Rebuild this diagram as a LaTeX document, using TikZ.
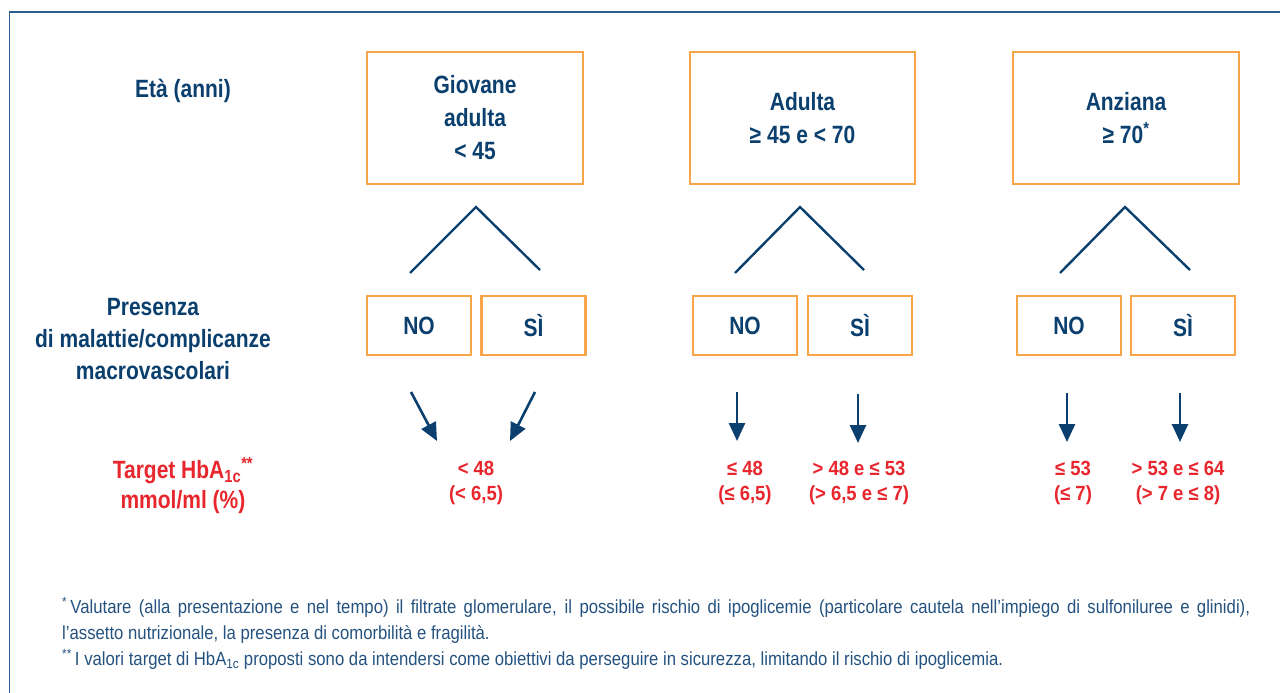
\documentclass[tikz,border=0pt]{standalone}
\usepackage{fontspec}
\setmainfont{Liberation Sans}
\newfontfamily\labfont{Liberation Sans}[FakeStretch=0.84]
\newfontfamily\valfont{Liberation Sans}[FakeStretch=0.9]
\newfontfamily\notefont{Liberation Sans}[FakeStretch=0.88]
\usetikzlibrary{arrows.meta}
\definecolor{navy}{HTML}{0B3F6E}
\definecolor{frameblue}{HTML}{2B5E91}
\definecolor{boxorange}{HTML}{F7A548}
\definecolor{tred}{HTML}{E8262D}
\definecolor{noteblue}{HTML}{24527F}
\tikzset{
  agebox/.style={draw=boxorange,line width=2.5pt,minimum width=#1,minimum height=132pt,inner sep=0pt,align=center,text=navy,font=\labfont\bfseries\fontsize{25}{33}\selectfont},
  ynbox/.style={draw=boxorange,line width=2.5pt,minimum width=104pt,minimum height=59pt,inner sep=0pt,text=navy,font=\labfont\bfseries\fontsize{25}{28}\selectfont},
  rowlabel/.style={align=center,text=navy,font=\labfont\bfseries\fontsize{25}{32}\selectfont,inner sep=0pt},
  redlabel/.style={align=center,text=tred,font=\labfont\bfseries\fontsize{25}{30}\selectfont,inner sep=0pt},
  value/.style={align=center,text=tred,font=\valfont\bfseries\fontsize{20.5}{24.5}\selectfont,inner sep=0pt},
  chev/.style={draw=navy,line width=2.4pt},
  arr/.style={draw=navy,line width=2.6pt,-{Triangle[length=18pt,width=16pt]}},
  note/.style={anchor=base west,text=noteblue,font=\notefont\fontsize{19}{22}\selectfont,inner sep=0pt},
  frame/.style={draw=frameblue,line width=1.8pt}
}
\begin{document}
\begin{tikzpicture}[x=1pt,y=-1pt]
\useasboundingbox (0,0) rectangle (1280,693);
% frame
\coordinate (fb) at (9.5,700);
\coordinate (fc) at (9.5,12);
\coordinate (fr) at (1290,12);
\draw[frame] (fb) -- (fc) -- (fr);

% row labels
\node[rowlabel] (eta) at (183,91) {Età (anni)};
\node[rowlabel] (pres) at (153,339) {Presenza\\di malattie/complicanze\\macrovascolari};
\node[redlabel] (targ) at (183,486) {Target HbA\textsubscript{1c}\textsuperscript{**}\\mmol/ml (\%)};

% age boxes
\node[agebox=216pt] (a1) at (475,118) {Giovane\\adulta\\< 45};
\node[agebox=225pt] (a2) at (802.5,118) {Adulta\\≥ 45 e < 70};
\node[agebox=226pt] (a3) at (1126,118) {Anziana\\≥ 70\textsuperscript{*}};

% chevrons
\coordinate (t1) at (476,207); \coordinate (l1) at (410,273); \coordinate (r1) at (540,270);
\coordinate (t2) at (800,207); \coordinate (l2) at (735,273); \coordinate (r2) at (864,270);
\coordinate (t3) at (1125,207); \coordinate (l3) at (1060,273); \coordinate (r3) at (1190,270);
\draw[chev] (l1) -- (t1) -- (r1);
\draw[chev] (l2) -- (t2) -- (r2);
\draw[chev] (l3) -- (t3) -- (r3);

% yes/no boxes
\node[ynbox] (n1) at (419,325.5) {NO};
\node[ynbox] (s1) at (533.5,325.5) {SÌ};
\node[ynbox] (n2) at (745,325.5) {NO};
\node[ynbox] (s2) at (860,325.5) {SÌ};
\node[ynbox] (n3) at (1069,325.5) {NO};
\node[ynbox] (s3) at (1183,325.5) {SÌ};

% arrows
\coordinate (an1a) at (411,392); \coordinate (an1b) at (437,441);
\coordinate (as1a) at (535,392); \coordinate (as1b) at (510,441);
\coordinate (an2a) at (737,392); \coordinate (an2b) at (737,441);
\coordinate (as2a) at (858,394); \coordinate (as2b) at (858,443);
\coordinate (an3a) at (1067,393); \coordinate (an3b) at (1067,442);
\coordinate (as3a) at (1180,393); \coordinate (as3b) at (1180,442);
\draw[arr] (an1a) -- (an1b);
\draw[arr] (as1a) -- (as1b);
\draw[arr] (an2a) -- (an2b);
\draw[arr] (as2a) -- (as2b);
\draw[arr] (an3a) -- (an3b);
\draw[arr] (as3a) -- (as3b);

% values
\node[value] (v1) at (476,483) {< 48\\(< 6,5)};
\node[value] (v2) at (745,483) {≤ 48\\(≤ 6,5)};
\node[value] (v3) at (859,483) {> 48 e ≤ 53\\(> 6,5 e ≤ 7)};
\node[value] (v4) at (1073,483) {≤ 53\\(≤ 7)};
\node[value] (v5) at (1178,483) {> 53 e ≤ 64\\(> 7 e ≤ 8)};

% footnotes
\node[note] (f1) at (62,613) {\makebox[1188pt][s]{\textsuperscript{*}\,Valutare (alla presentazione e nel tempo) il filtrate glomerulare, il possibile rischio di ipoglicemie (particolare cautela nell’impiego di sulfoniluree e glinidi),}};
\node[note] (f2) at (62,639) {l’assetto nutrizionale, la presenza di comorbilità e fragilità.};
\node[note] (f3) at (62,665) {\textsuperscript{**}\,I valori target di HbA\textsubscript{1c} proposti sono da intendersi come obiettivi da perseguire in sicurezza, limitando il rischio di ipoglicemia.};
\end{tikzpicture}
\end{document}
